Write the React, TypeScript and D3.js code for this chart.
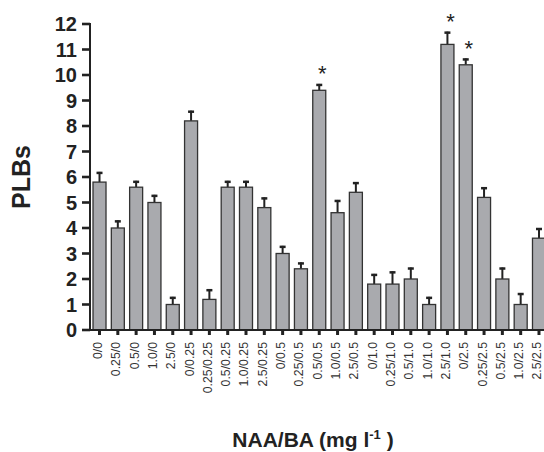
import React from "react";
import * as d3 from "d3";

const categories = [
  "0/0", "0.25/0", "0.5/0", "1.0/0", "2.5/0",
  "0/0.25", "0.25/0.25", "0.5/0.25", "1.0/0.25", "2.5/0.25",
  "0/0.5", "0.25/0.5", "0.5/0.5", "1.0/0.5", "2.5/0.5",
  "0/1.0", "0.25/1.0", "0.5/1.0", "1.0/1.0", "2.5/1.0",
  "0/2.5", "0.25/2.5", "0.5/2.5", "1.0/2.5", "2.5/2.5",
];
const means = [
  5.8, 4.0, 5.6, 5.0, 1.0,
  8.2, 1.2, 5.6, 5.6, 4.8,
  3.0, 2.4, 9.4, 4.6, 5.4,
  1.8, 1.8, 2.0, 1.0, 11.2,
  10.4, 5.2, 2.0, 1.0, 3.6,
];
const errors = [
  0.4, 0.3, 0.25, 0.3, 0.3,
  0.4, 0.4, 0.25, 0.25, 0.4,
  0.3, 0.25, 0.25, 0.5, 0.4,
  0.4, 0.5, 0.45, 0.3, 0.5,
  0.25, 0.4, 0.45, 0.45, 0.4,
];
const significant = [
  false, false, false, false, false,
  false, false, false, false, false,
  false, false, true, false, false,
  false, false, false, false, true,
  true, false, false, false, false,
];
const yTicks = [0, 1, 2, 3, 4, 5, 6, 7, 8, 9, 10, 11, 12];

const W = 544;
const H = 452;
const FONT = "'Liberation Sans', Arial, Helvetica, sans-serif";

export default function App() {
  const x = d3
    .scaleBand<string>()
    .domain(categories)
    .range([87.7, 550.8])
    .paddingInner(0.29)
    .paddingOuter(0.29);
  const y = d3.scaleLinear().domain([0, 12]).range([330, 24]);
  const bw = x.bandwidth();
  const axisX = 90;
  const baseY = y(0);

  return (
    <svg
      width={W}
      height={H}
      style={{ position: "absolute", left: 0, top: 0, background: "#fff" }}
      fontFamily={FONT}
    >
      {categories.map((c, i) => {
        const x0 = x(c)!;
        const cx = x0 + bw / 2;
        const top = y(means[i]);
        const errTop = y(means[i] + errors[i]);
        return (
          <g key={c}>
            <line x1={cx} x2={cx} y1={top} y2={errTop} stroke="#222" strokeWidth={2} />
            <line x1={cx - 3} x2={cx + 3} y1={errTop + 1} y2={errTop + 1} stroke="#222" strokeWidth={2.5} />
            <rect
              x={x0}
              y={top}
              width={bw}
              height={baseY - top}
              fill="#a9aaae"
              stroke="#333"
              strokeWidth={1.3}
            />
            {significant[i] && (
              <text
                x={cx + 3}
                y={errTop - 2.5}
                textAnchor="middle"
                fontSize={22}
                fill="#222"
              >
                *
              </text>
            )}
            <line x1={cx} x2={cx} y1={baseY} y2={baseY + 5} stroke="#222" strokeWidth={3} />
            <text
              transform={`translate(${cx},342) rotate(-90)`}
              textAnchor="end"
              dy="0.2em"
              fontSize={12.3}
              fill="#333"
            >
              {c}
            </text>
          </g>
        );
      })}

      <line x1={axisX} x2={axisX} y1={y(12) - 1} y2={baseY + 1} stroke="#222" strokeWidth={2} />
      {yTicks.map((t) => (
        <g key={t}>
          <line x1={82} x2={axisX} y1={y(t)} y2={y(t)} stroke="#222" strokeWidth={2.6} />
          <text
            x={77}
            y={y(t)}
            dy="0.36em"
            textAnchor="end"
            fontSize={20}
            fontWeight="bold"
            fill="#222"
          >
            {t}
          </text>
        </g>
      ))}
      <line x1={82} x2={W} y1={baseY} y2={baseY} stroke="#222" strokeWidth={2} />

      <text
        transform="translate(30,177) rotate(-90)"
        textAnchor="middle"
        fontSize={25}
        fontWeight="bold"
        fill="#222"
      >
        PLBs
      </text>
      <text x={313} y={447} textAnchor="middle" fontSize={21} fontWeight="bold" fill="#222">
        NAA/BA (mg l
        <tspan fontSize={13} dy={-8}>-1</tspan>
        <tspan dy={8}> )</tspan>
      </text>
    </svg>
  );
}
